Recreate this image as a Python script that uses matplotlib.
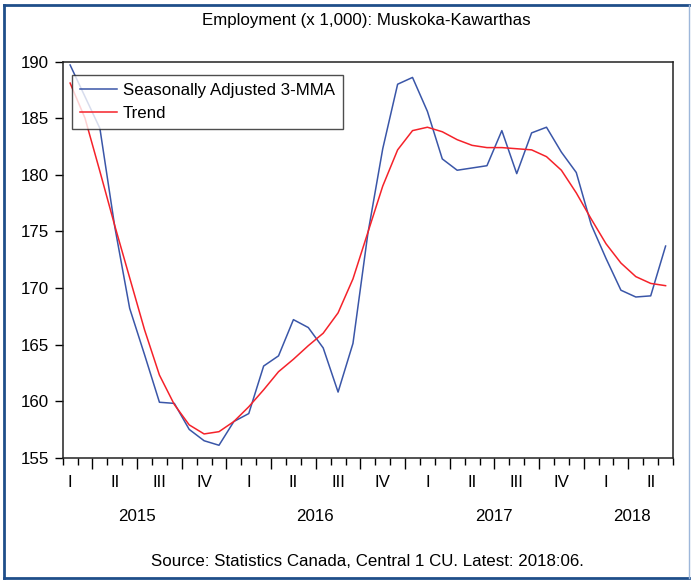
import numpy as np
import pandas as pd
import matplotlib
matplotlib.use("Agg")
import matplotlib.pyplot as plt
from matplotlib.lines import Line2D

plt.rcParams['font.family'] = ['Liberation Sans', 'DejaVu Sans']

# --- Data (monthly, Feb 2015 - Jun 2018) ---
START_MONTH = "2015-02"
END_MONTH = "2018-06"
SA_3MMA = [189.7, 186.9, 184.1, 175.4, 168.2, 164.1, 159.9, 159.8, 157.5, 156.5,
           156.1, 158.2, 158.9, 163.1, 164.0, 167.2, 166.5, 164.7, 160.8, 165.1,
           174.8, 182.3, 188.0, 188.6, 185.6, 181.4, 180.4, 180.6, 180.8, 183.9,
           180.1, 183.7, 184.2, 182.0, 180.2, 175.6, 172.6, 169.8, 169.2, 169.3,
           173.7]
TREND = [188.1, 185.0, 180.3, 175.5, 170.9, 166.3, 162.3, 159.7, 157.9, 157.1,
         157.3, 158.2, 159.5, 161.0, 162.6, 163.7, 164.9, 166.0, 167.8, 170.8,
         174.9, 179.0, 182.2, 183.9, 184.2, 183.8, 183.1, 182.6, 182.4, 182.4,
         182.3, 182.2, 181.6, 180.4, 178.4, 176.1, 173.9, 172.2, 171.0, 170.4,
         170.2]
SERIES_LABELS = ["Seasonally Adjusted 3-MMA", "Trend"]
QUARTER_NAMES = ["I", "II", "III", "IV"]
TITLE = "Employment (x 1,000): Muskoka-Kawarthas"
SOURCE = "Source: Statistics Canada, Central 1 CU. Latest: 2018:06."
Y_TICKS = [155, 160, 165, 170, 175, 180, 185, 190]

BLUE = "#3A56A8"
RED = "#F5222A"
FRAME = "#1F4E8A"
FS = 12.2

dates = pd.date_range(START_MONTH, END_MONTH, freq="MS")
x = np.arange(len(dates))
n = len(dates)

fig = plt.figure(figsize=(6.91, 5.81), dpi=100)
ax = fig.add_axes([0.0907, 0.2122, 0.974 - 0.0907, 0.894 - 0.2122])

ax.plot(x, SA_3MMA, color=BLUE, lw=1.1, label=SERIES_LABELS[0])
ax.plot(x, TREND, color=RED, lw=1.1, label=SERIES_LABELS[1])

ax.set_xlim(-0.5, n - 0.5)
ax.set_ylim(155, 190)
ax.set_yticks(Y_TICKS)
ax.tick_params(axis='y', direction='out', length=6, width=1, labelsize=FS, pad=4)

# month boundary ticks (minor) and quarter boundaries (major)
bounds = np.arange(n + 1) - 0.5
q_bounds = [b for b, d in zip(bounds[1:], dates[1:]) if d.month in (1, 4, 7, 10)]
ax.set_xticks(bounds, minor=True)
ax.set_xticks(q_bounds)
ax.set_xticklabels([])
ax.tick_params(axis='x', which='minor', direction='out', length=5, width=1)
ax.tick_params(axis='x', which='major', direction='out', length=8, width=1)

for s in ax.spines.values():
    s.set_linewidth(1.1)
    s.set_color("#222222")

# quarter labels sit on the middle month of each quarter
trans = ax.get_xaxis_transform()
for xi, d in zip(x, dates):
    if d.month % 3 == 2:
        ax.text(xi, -0.062, QUARTER_NAMES[(d.month - 1) // 3], transform=trans,
                ha='center', va='center', fontsize=FS)

# year labels centred on each year's span
for yr in sorted(set(dates.year)):
    jan = (pd.Timestamp(f"{yr}-01-01") - dates[0]).days / 30.44
    dec = min(jan + 11, n - 0.5)
    ax.text((jan + dec) / 2, -0.148, str(yr), transform=trans,
            ha='center', va='center', fontsize=FS)

leg = ax.legend(loc='upper left', bbox_to_anchor=(0.0146, 0.967), fontsize=FS,
                frameon=True, fancybox=False, handlelength=2.2, handletextpad=0.35,
                borderpad=0.47, labelspacing=0.47, borderaxespad=0)
leg.get_frame().set_edgecolor("#222222")
leg.get_frame().set_linewidth(1.0)

fig.text(0.53, 1 - 20 / 581, TITLE, ha='center', va='center', fontsize=FS)
fig.text(0.532, 1 - 562 / 581, SOURCE, ha='center', va='center', fontsize=FS)

# outer frame
fig.add_artist(Line2D([4 / 691, 689 / 691], [1 - 5 / 581] * 2, transform=fig.transFigure, color=FRAME, lw=2))
fig.add_artist(Line2D([4 / 691] * 2, [1 - 5 / 581, 1 - 578 / 581], transform=fig.transFigure, color=FRAME, lw=2))
fig.add_artist(Line2D([4 / 691, 689 / 691], [1 - 578 / 581] * 2, transform=fig.transFigure, color=FRAME, lw=2))
fig.add_artist(Line2D([689 / 691] * 2, [1 - 5 / 581, 1 - 578 / 581], transform=fig.transFigure, color="#9DB7DA", lw=1))

fig.savefig("out.png", dpi=100)
